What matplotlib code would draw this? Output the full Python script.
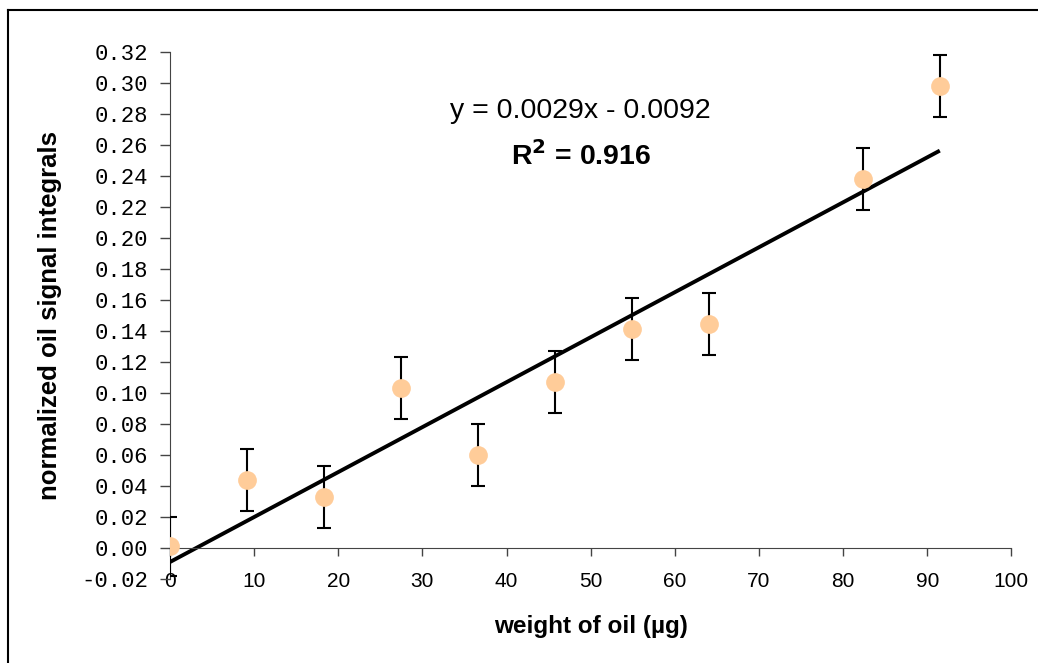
import matplotlib
matplotlib.use("Agg")
import matplotlib.pyplot as plt
import numpy as np
from matplotlib.lines import Line2D

# data
weight = [0, 9.15, 18.3, 27.45, 36.6, 45.75, 54.9, 64.05, 82.35, 91.5]
signal = [0.001, 0.0437, 0.033, 0.103, 0.060, 0.107, 0.141, 0.144, 0.238, 0.298]
err = [0.019, 0.02, 0.02, 0.02, 0.02, 0.02, 0.02, 0.02, 0.02, 0.02]
slope, intercept = 0.0029, -0.0092
yticks = np.arange(-0.02, 0.3201, 0.02)
xticks = np.arange(0, 101, 10)

fig = plt.figure(figsize=(10.38, 6.63), dpi=100)
ax = fig.add_axes([0.1638, 0.1271, 0.8105, 0.795])

# trend line
xt = np.array([weight[0], weight[-1]])
ax.plot(xt, slope * xt + intercept, color="black", lw=2.8, zorder=2,
        solid_capstyle="butt")

ax.errorbar(weight, signal, yerr=err, fmt="none", ecolor="black",
            elinewidth=1.5, capsize=5, capthick=1.5, zorder=3)
ax.plot(weight, signal, "o", color="#FFCC99", ms=13.5, mec="none", zorder=4)

ax.set_xlim(0, 100)
ax.set_ylim(-0.02, 0.32)

for s in ["top", "right"]:
    ax.spines[s].set_visible(False)
ax.spines["bottom"].set_position(("data", 0))
ax.spines["bottom"].set_color("#444444")
ax.spines["left"].set_color("#444444")
ax.tick_params(axis="y", direction="out", length=7, width=1, color="#444444",
               pad=9, labelsize=16, labelfontfamily="Liberation Mono")
ax.tick_params(axis="x", direction="out", length=6, width=1, color="#444444",
               pad=11.5, labelsize=15, labelfontfamily="Liberation Sans")
ax.set_yticks(yticks)
ax.set_yticklabels([f"{v:.2f}" for v in yticks])
ax.set_xticks(xticks)
ax.set_xticklabels([str(v) for v in xticks])

ax.set_xlabel("weight of oil (µg)", family="Liberation Sans", fontsize=17.5,
              fontweight="bold")
ax.xaxis.set_label_coords(0.5, -0.069)
ax.set_ylabel("normalized oil signal integrals", family="Liberation Sans",
              fontsize=18.5, fontweight="bold")
ax.yaxis.set_label_coords(-0.128, 0.5)

ax.text(48.8, 0.2817, "y = 0.0029x - 0.0092", family="Liberation Sans",
        fontsize=20.5, ha="center", va="center")
ax.text(48.9, 0.2527, r"R$^\mathbf{2}$ = 0.916", family="Liberation Sans",
        fontsize=20.5, fontweight="bold", ha="center", va="center")

# outer frame (top and left edges)
fig.add_artist(Line2D([8 / 1038, 1], [1 - 9.5 / 663, 1 - 9.5 / 663],
                      transform=fig.transFigure, color="black", lw=1.5))
fig.add_artist(Line2D([8 / 1038, 8 / 1038], [0, 1 - 9.5 / 663],
                      transform=fig.transFigure, color="black", lw=1.5))

fig.savefig("out.png", dpi=100)
